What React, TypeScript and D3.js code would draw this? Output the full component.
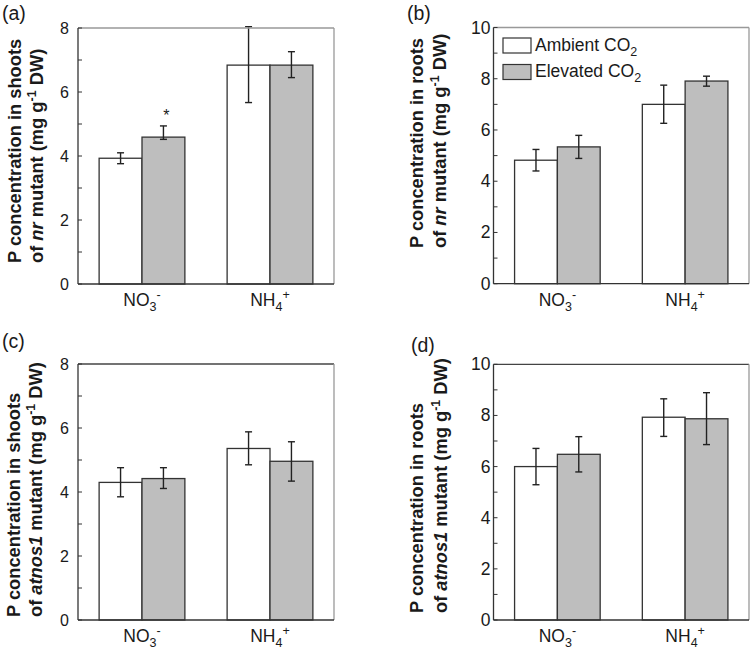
import React from 'react';
import * as d3 from 'd3';

// categories and series
const categories = ['NO3', 'NH4'];
const seriesNames = ['Ambient CO2', 'Elevated CO2'];
const seriesFill = ['#ffffff', '#bebebe'];

// (a) shoots, nr mutant
const aAmbient = [3.93, 6.84];
const aAmbientLo = [3.76, 5.67];
const aAmbientHi = [4.10, 8.04];
const aElevated = [4.59, 6.84];
const aElevatedLo = [4.52, 6.45];
const aElevatedHi = [4.94, 7.26];

// (b) roots, nr mutant
const bAmbient = [4.82, 7.0];
const bAmbientLo = [4.40, 6.26];
const bAmbientHi = [5.24, 7.75];
const bElevated = [5.34, 7.91];
const bElevatedLo = [4.89, 7.71];
const bElevatedHi = [5.79, 8.10];

// (c) shoots, atnos1 mutant
const cAmbient = [4.30, 5.36];
const cAmbientLo = [3.85, 4.85];
const cAmbientHi = [4.76, 5.88];
const cElevated = [4.42, 4.96];
const cElevatedLo = [4.11, 4.34];
const cElevatedHi = [4.76, 5.57];

// (d) roots, atnos1 mutant
const dAmbient = [6.0, 7.93];
const dAmbientLo = [5.29, 7.18];
const dAmbientHi = [6.71, 8.65];
const dElevated = [6.48, 7.87];
const dElevatedLo = [5.79, 6.86];
const dElevatedHi = [7.17, 8.89];

const ticks8 = [0, 2, 4, 6, 8];
const ticks10 = [0, 2, 4, 6, 8, 10];

const FONT = '"Liberation Sans", Arial, Helvetica, sans-serif';

function CatLabel({ cat, x, y }) {
  const base = cat === 'NO3' ? 'NO' : 'NH';
  const sub = cat === 'NO3' ? '3' : '4';
  const sup = cat === 'NO3' ? '-' : '+';
  return (
    <text x={x} y={y} textAnchor="middle" fontSize={17.5}>
      {base}<tspan fontSize={12.5} dy={5}>{sub}</tspan><tspan fontSize={12.5} dy={-12}>{sup}</tspan>
    </text>
  );
}

function Panel({ p }) {
  const y = d3.scaleLinear().domain([0, p.max]).range([p.bottom, p.top]);
  const x = d3.scaleBand().domain(categories).range([p.left, p.right])
    .paddingInner(0.33).paddingOuter(0.165);
  const xs = d3.scaleBand().domain(seriesNames).range([0, x.bandwidth()]);
  const minor = d3.range(1, p.max, 2);
  const tickLen = 4;

  return (
    <g>
      {/* panel letter */}
      <text x={p.letterX} y={p.letterY} fontSize={19.5}>{p.letter}</text>

      {/* bars */}
      {p.series.map((s, si) => categories.map((c, ci) => (
        <rect key={`${si}-${ci}`} x={x(c) + xs(seriesNames[si])} y={y(s.mean[ci])}
          width={xs.bandwidth()} height={p.bottom - y(s.mean[ci])}
          fill={seriesFill[si]} stroke="#333" strokeWidth={1.3} />
      )))}

      {/* error bars */}
      {p.series.map((s, si) => categories.map((c, ci) => {
        const cx = x(c) + xs(seriesNames[si]) + xs.bandwidth() / 2;
        return (
          <g key={`e-${si}-${ci}`} stroke="#222" strokeWidth={1.4}>
            <line x1={cx} x2={cx} y1={y(s.lo[ci])} y2={y(s.hi[ci])} />
            <line x1={cx - 3.5} x2={cx + 3.5} y1={y(s.lo[ci])} y2={y(s.lo[ci])} />
            <line x1={cx - 3.5} x2={cx + 3.5} y1={y(s.hi[ci])} y2={y(s.hi[ci])} />
          </g>
        );
      }))}

      {p.star && (
        <text x={x(categories[0]) + xs(seriesNames[1]) + xs.bandwidth() / 2 + 3}
          y={y(p.series[1].hi[0]) - 5} textAnchor="middle" fontSize={16}>*</text>
      )}

      {/* frame */}
      <line x1={p.left} x2={p.right} y1={p.top} y2={p.top} stroke={p.topColor} strokeWidth={1.3} />
      <line x1={p.right} x2={p.right} y1={p.top} y2={p.bottom} stroke="#999" strokeWidth={1.3} />
      <line x1={p.left} x2={p.left} y1={p.top} y2={p.bottom} stroke="#333" strokeWidth={1.3} />
      <line x1={p.left} x2={p.right} y1={p.bottom} y2={p.bottom} stroke="#333" strokeWidth={1.3} />

      {/* y ticks */}
      {p.ticks.map(t => (
        <g key={`t${t}`}>
          <line x1={p.left} x2={p.left + tickLen} y1={y(t)} y2={y(t)} stroke="#333" strokeWidth={1} />
          <text x={p.left - p.labelGap} y={y(t) + 6} textAnchor="end" fontSize={p.tickFont}>{t}</text>
        </g>
      ))}
      {minor.map(t => (
        <line key={`m${t}`} x1={p.left} x2={p.left + tickLen} y1={y(t)} y2={y(t)} stroke="#333" strokeWidth={1} />
      ))}

      {/* category labels */}
      {categories.map(c => (
        <CatLabel key={c} cat={c} x={x(c) + x.bandwidth() / 2} y={p.bottom + 22} />
      ))}

      {/* y title */}
      <g fontWeight="bold" fontSize={18.3}>
        <text transform={`translate(${p.t1x},${p.tStart}) rotate(-90)`}>{p.title1}</text>
        <text transform={`translate(${p.t2x},${p.tStart}) rotate(-90)`}>
          of <tspan fontStyle="italic">{p.mutant}</tspan> mutant (mg g<tspan fontSize={12.5} dy={-7}>-1</tspan><tspan dy={7}> DW)</tspan>
        </text>
      </g>

      {/* legend */}
      {p.legend && seriesNames.map((n, i) => (
        <g key={n}>
          <rect x={503} y={38 + i * 26.5} width={28} height={15} fill={seriesFill[i]} stroke="#333" strokeWidth={1.2} />
          <text x={535} y={50.5 + i * 26.5} fontSize={17.5}>
            {n.replace('CO2', 'CO')}<tspan fontSize={12.5} dy={5}>2</tspan>
          </text>
        </g>
      ))}
    </g>
  );
}

const panels = [
  {
    letter: '(a)', letterX: 2, letterY: 20, max: 8, ticks: ticks8,
    left: 78, right: 334, top: 28, bottom: 284, topColor: '#999',
    labelGap: 9, tickFont: 16, star: true, legend: false,
    title1: 'P concentration in shoots', mutant: 'nr', t1x: 21, t2x: 43, tStart: 263,
    series: [
      { mean: aAmbient, lo: aAmbientLo, hi: aAmbientHi },
      { mean: aElevated, lo: aElevatedLo, hi: aElevatedHi },
    ],
  },
  {
    letter: '(b)', letterX: 407, letterY: 20, max: 10, ticks: ticks10,
    left: 493.5, right: 749, top: 27.5, bottom: 283.7, topColor: '#999',
    labelGap: 3, tickFont: 17.5, star: false, legend: true,
    title1: 'P concentration in roots', mutant: 'nr', t1x: 423, t2x: 446, tStart: 248,
    series: [
      { mean: bAmbient, lo: bAmbientLo, hi: bAmbientHi },
      { mean: bElevated, lo: bElevatedLo, hi: bElevatedHi },
    ],
  },
  {
    letter: '(c)', letterX: 2, letterY: 348, max: 8, ticks: ticks8,
    left: 78, right: 334, top: 364, bottom: 620, topColor: '#444',
    labelGap: 9, tickFont: 16, star: false, legend: false,
    title1: 'P concentration in shoots', mutant: 'atnos1', t1x: 20, t2x: 42, tStart: 617,
    series: [
      { mean: cAmbient, lo: cAmbientLo, hi: cAmbientHi },
      { mean: cElevated, lo: cElevatedLo, hi: cElevatedHi },
    ],
  },
  {
    letter: '(d)', letterX: 411, letterY: 352, max: 10, ticks: ticks10,
    left: 493.5, right: 749, top: 364.3, bottom: 620, topColor: '#444',
    labelGap: 3, tickFont: 17.5, star: false, legend: false,
    title1: 'P concentration in roots', mutant: 'atnos1', t1x: 423, t2x: 447, tStart: 613,
    series: [
      { mean: dAmbient, lo: dAmbientLo, hi: dAmbientHi },
      { mean: dElevated, lo: dElevatedLo, hi: dElevatedHi },
    ],
  },
];

export default function App() {
  return (
    <svg width={750} height={649} style={{ position: 'absolute', left: 0, top: 0, background: '#fff' }}
      fontFamily={FONT} fill="#1a1a1a">
      <rect x={0} y={0} width={750} height={649} fill="#fff" />
      {panels.map(p => <Panel key={p.letter} p={p} />)}
    </svg>
  );
}
